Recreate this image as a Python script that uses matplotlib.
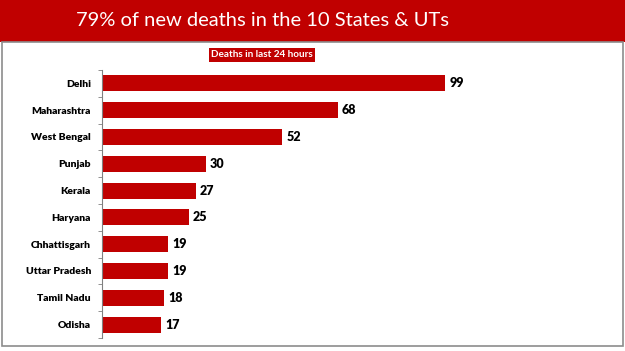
import matplotlib.pyplot as plt
from matplotlib.patches import Rectangle
import numpy as np

states = ['Delhi', 'Maharashtra', 'West Bengal', 'Punjab', 'Kerala',
          'Haryana', 'Chhattisgarh', 'Uttar Pradesh', 'Tamil Nadu', 'Odisha']
deaths = [99, 68, 52, 30, 27, 25, 19, 19, 18, 17]

title = '79% of new deaths in the 10 States & UTs'
subtitle = 'Deaths in last 24 hours'

red = '#C00000'
W, H = 625, 351

fig = plt.figure(figsize=(W / 100, H / 100), dpi=100)
fig.patch.set_facecolor('white')

# title banner
fig.patches.append(Rectangle((0, 1 - 42 / H), 1, 42 / H, transform=fig.transFigure,
                             facecolor=red, edgecolor='none', zorder=0))
fig.text(262 / W, 1 - 21 / H, title, color='white', fontsize=14.5, family='Lato',
         ha='center', va='center')

# gray frame of the slide body
frame = Rectangle((2 / W, 1 - 346 / H), 621 / W, 304 / H, transform=fig.transFigure,
                  facecolor='none', edgecolor='#8c8c8c', linewidth=1.2, zorder=1)
fig.patches.append(frame)

# subtitle box
fig.text(262 / W, 1 - 54.5 / H, subtitle, color='white', fontsize=7.2, family='Lato',
         fontweight='bold', ha='center', va='center',
         bbox=dict(boxstyle='square,pad=0.25', facecolor=red, edgecolor='none'))

ax = fig.add_axes([102 / W, 1 - 338 / H, 498 / W, 268 / H])
y = np.arange(len(states))
ax.barh(y, deaths, height=0.6, color=red)
ax.set_ylim(len(states) - 0.5, -0.5)
ax.set_xlim(0, 498 / 3.465)

for yi, v in zip(y, deaths):
    ax.text(v + 1.2, yi, str(v), va='center', ha='left', fontsize=9,
            fontweight='heavy', family='Lato', color='black')

ax.set_yticks(y)
ax.set_yticklabels(states, fontsize=7.5, fontweight='heavy', family='Lato')
ax.tick_params(axis='y', which='major', length=0, pad=8)
ax.set_yticks(np.arange(-0.5, len(states), 1), minor=True)
ax.tick_params(axis='y', which='minor', length=3, color='#808080')
ax.set_xticks([])
for s in ['top', 'right', 'bottom']:
    ax.spines[s].set_visible(False)
ax.spines['left'].set_color('#808080')

fig.savefig('out.png', dpi=100)
